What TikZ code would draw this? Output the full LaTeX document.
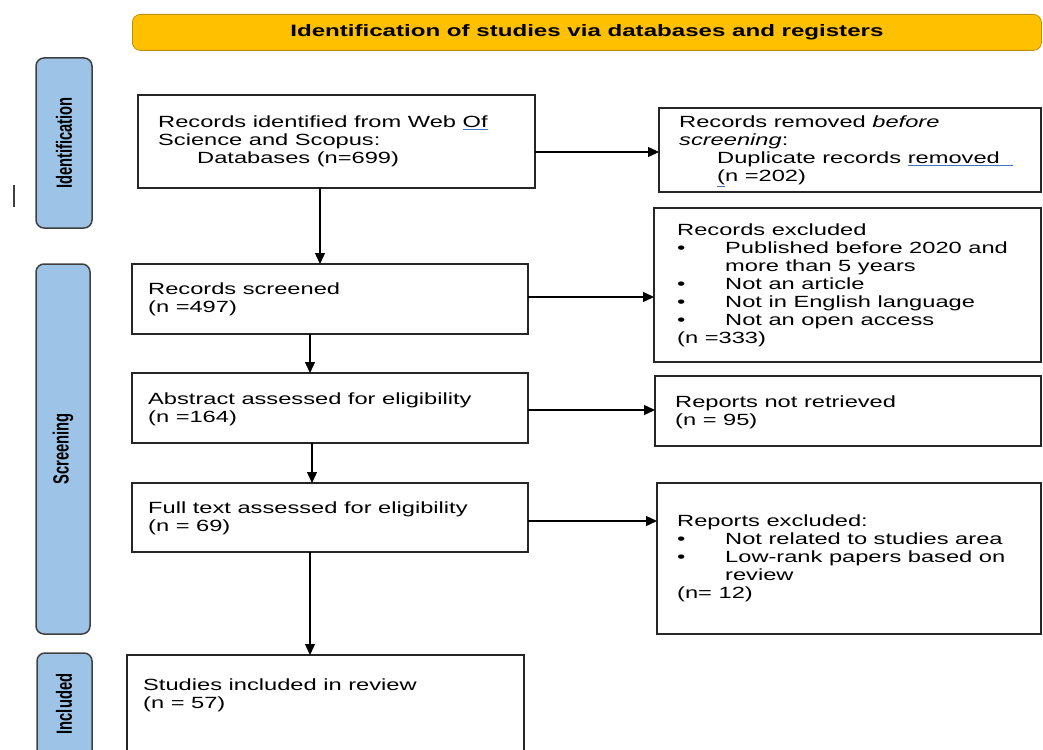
\documentclass[tikz,border=0pt]{standalone}
\usepackage{fontspec}
\setmainfont{Liberation Sans}[FakeStretch=1.46]
\newfontfamily\sidefont{Liberation Sans}[FakeStretch=0.67]
\usetikzlibrary{arrows.meta}
\definecolor{bannerfill}{HTML}{FFC000}
\definecolor{bannerline}{HTML}{BF9000}
\definecolor{sidefill}{HTML}{9DC3E6}
\definecolor{sideline}{HTML}{404040}
\definecolor{boxline}{HTML}{262626}
\definecolor{ulblue}{HTML}{4472C4}
\newcommand\blueul[1]{{\color{ulblue}\underline{\color{black}#1}}}
\begin{document}
\begin{tikzpicture}[x=1pt,y=-1pt,
  box/.style={draw=boxline, line width=1.3pt, fill=white, inner sep=0pt, outer sep=0pt, anchor=north west},
  side/.style={draw=sideline, fill=sidefill, line width=1.5pt, rounded corners=8pt, inner sep=0pt, outer sep=0pt, anchor=north west},
  txt/.style={anchor=north west, inner sep=0pt, align=left, font=\fontsize{16.2}{18}\selectfont},
  sidelabel/.style={rotate=90, inner sep=0pt, font=\sidefont\bfseries\fontsize{22}{22}\selectfont},
  arr/.style={draw=black, line width=1.3pt, -{Triangle[length=11pt,width=10pt]}}]
\useasboundingbox (0,0) rectangle (1043,749);
\clip (0,0) rectangle (1043,749);

% banner
\node[draw=bannerline, fill=bannerfill, rounded corners=8pt, line width=0.8pt,
      minimum width=909, minimum height=36, anchor=north west, inner sep=0pt,
      font=\bfseries\fontsize{16.5}{18}\selectfont] (banner) at (132,14)
      {Identification of studies via databases and registers};

% side phase boxes
\node[side, minimum width=56, minimum height=170] (s1) at (36,58) {};
\node[side, minimum width=54, minimum height=370] (s2) at (36,264) {};
\node[side, minimum width=55, minimum height=120] (s3) at (37,653) {};
\node[sidelabel] (l1) at (64,143) {Identification};
\node[sidelabel] (l2) at (63,449) {Screening};
\node[sidelabel] (l3) at (64,704) {Included};
\draw[sideline, line width=1.8pt] (14,185) -- (14,207);

% boxes
\node[box, minimum width=397, minimum height=93] (b1) at (138,95) {};
\node[box, minimum width=382, minimum height=84] (r1) at (659,108) {};
\node[box, minimum width=396, minimum height=70] (b2) at (132,264) {};
\node[box, minimum width=387, minimum height=154] (r2) at (654,208) {};
\node[box, minimum width=396, minimum height=70] (b3) at (132,373) {};
\node[box, minimum width=386, minimum height=70] (r3) at (655,376) {};
\node[box, minimum width=396, minimum height=69] (b4) at (132,483) {};
\node[box, minimum width=384, minimum height=151] (r4) at (657,483) {};
\node[box, minimum width=397, minimum height=120] (b5) at (127,655) {};

% texts
\node[txt] (t1) at (158,116) {Records identified from Web \blueul{Of}\\Science and Scopus:\\\hspace*{39pt}Databases (n=699)};
\node[txt] (t2) at (679,116) {Records removed \textit{before}\\\textit{screening}:\\\hspace*{38pt}Duplicate records \blueul{removed\ \ }\\\hspace*{38pt}\blueul{(}n =202)};
\node[txt] (t3) at (148,283) {Records screened\\(n =497)};
\node[txt] (t4) at (677,224) {Records excluded\\
\makebox[48pt][l]{\textbullet}Published before 2020 and\\
\hspace*{48pt}more than 5 years\\
\makebox[48pt][l]{\textbullet}Not an article\\
\makebox[48pt][l]{\textbullet}Not in English language\\
\makebox[48pt][l]{\textbullet}Not an open access\\
(n =333)};
\node[txt] (t5) at (148,393) {Abstract assessed for eligibility\\(n =164)};
\node[txt] (t6) at (675,396) {Reports not retrieved\\(n = 95)};
\node[txt] (t7) at (148,502) {Full text assessed for eligibility\\(n = 69)};
\node[txt] (t8) at (677,515) {Reports excluded:\\
\makebox[48pt][l]{\textbullet}Not related to studies area\\
\makebox[48pt][l]{\textbullet}Low-rank papers based on\\
\hspace*{48pt}review\\
(n= 12)};
\node[txt] (t9) at (143,679) {Studies included in review\\(n = 57)};

% arrows
\draw[arr] (b1.east |- 0,152) -- (r1.west |- 0,152);
\draw[arr] (b2.east |- 0,297) -- (r2.west |- 0,297);
\draw[arr] (b3.east |- 0,410) -- (r3.west |- 0,410);
\draw[arr] (b4.east |- 0,521) -- (r4.west |- 0,521);
\draw[arr] (b1.south -| 320,0) -- (b2.north -| 320,0);
\draw[arr] (b2.south -| 310,0) -- (b3.north -| 310,0);
\draw[arr] (b3.south -| 312,0) -- (b4.north -| 312,0);
\draw[arr] (b4.south -| 310,0) -- (b5.north -| 310,0);
\end{tikzpicture}
\end{document}
